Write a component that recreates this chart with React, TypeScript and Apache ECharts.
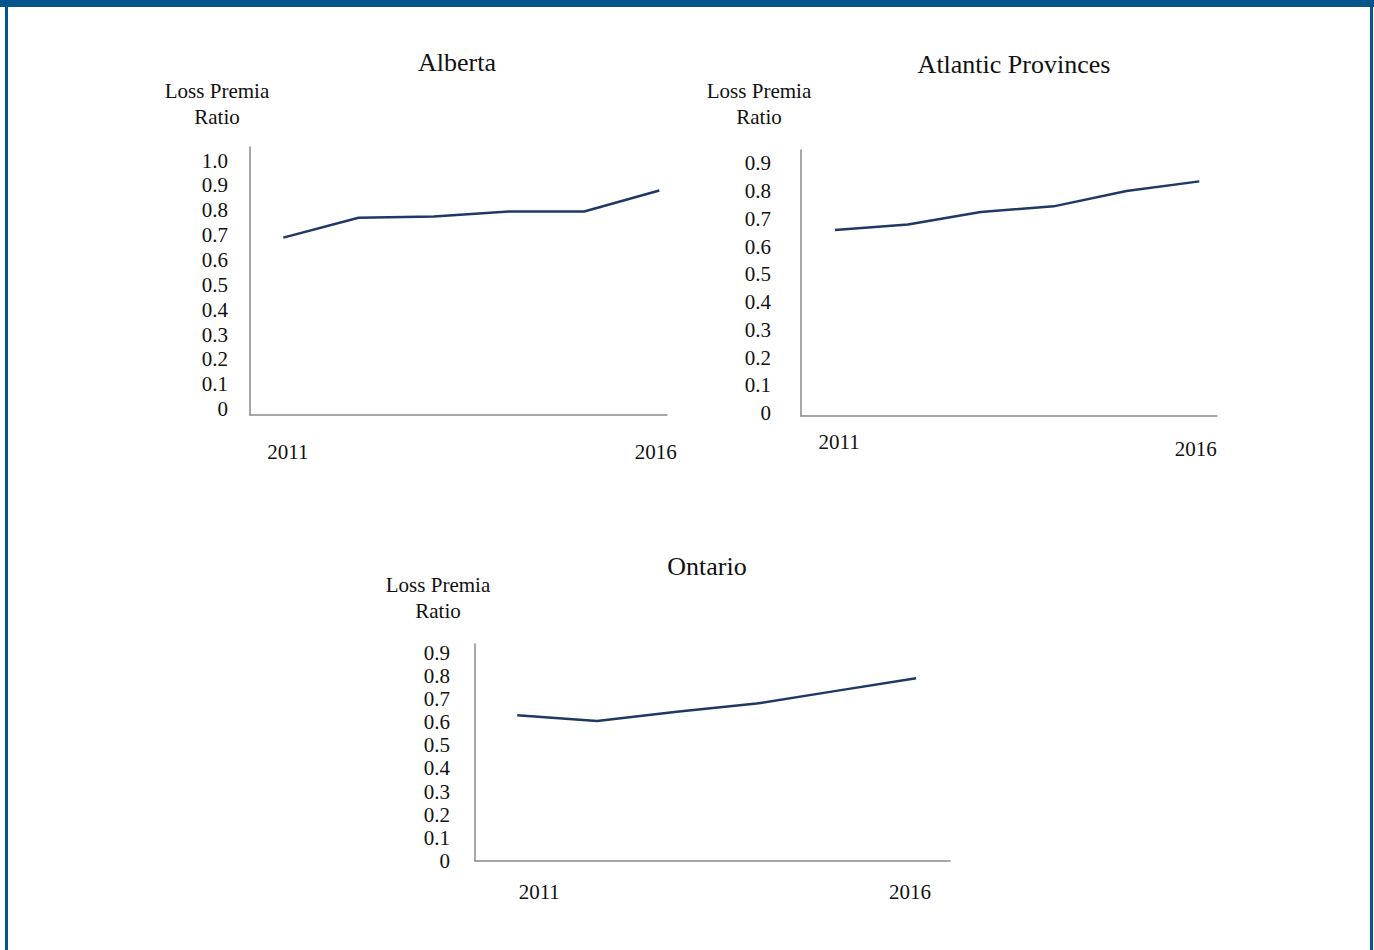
import React, { useEffect, useRef } from "react";
import * as echarts from "echarts";

// ---- data ----
const YEARS = [2011, 2012, 2013, 2014, 2015, 2016];
const ALBERTA = [0.69, 0.77, 0.775, 0.795, 0.795, 0.88];
const ATLANTIC = [0.66, 0.68, 0.725, 0.745, 0.8, 0.835];
const ONTARIO = [0.63, 0.605, 0.645, 0.68, 0.735, 0.79];
const Y_TICKS_TO_1 = [0, 0.1, 0.2, 0.3, 0.4, 0.5, 0.6, 0.7, 0.8, 0.9, 1.0];
const Y_TICKS_TO_09 = [0, 0.1, 0.2, 0.3, 0.4, 0.5, 0.6, 0.7, 0.8, 0.9];
const X_LABELS = [2011, 2016];
const TITLES = ["Alberta", "Atlantic Provinces", "Ontario"];
const Y_NAME = "Loss Premia\nRatio";

const FONT = "'Liberation Serif', 'Times New Roman', serif";
const TEXT = "#111111";
const AXIS = "#8a8a8a";
const LINE = "#1f3864";
const FRAME = "#03558c";

const panels = [
  {
    title: TITLES[0], values: ALBERTA, ticks: Y_TICKS_TO_1,
    titleX: 457, titleY: 49,
    grid: { left: 250, top: 147, width: 417, height: 268 },
    yMin: -0.024, yMax: 1.055, xMin: 2010.557, xMax: 2016.102,
    yLabelMargin: 22, nameShift: 33, nameGap: 17,
    xLabelMargin: 26, pad2011: [0, 0, 0, 9], pad2016: [0, 7, 0, 0],
  },
  {
    title: TITLES[1], values: ATLANTIC, ticks: Y_TICKS_TO_09,
    titleX: 1014, titleY: 51,
    grid: { left: 801, top: 150, width: 416, height: 266 },
    yMin: -0.01, yMax: 0.948, xMin: 2010.533, xMax: 2016.243,
    yLabelMargin: 30, nameShift: 42, nameGap: 20,
    xLabelMargin: 15, pad2011: [0, 0, 0, 8], pad2016: [7, 7, 0, 0],
  },
  {
    title: TITLES[2], values: ONTARIO, ticks: Y_TICKS_TO_09,
    titleX: 707, titleY: 553,
    grid: { left: 475, top: 644, width: 475, height: 217 },
    yMin: 0, yMax: 0.9375, xMin: 2010.47, xMax: 2016.426,
    yLabelMargin: 25, nameShift: 37, nameGap: 20,
    xLabelMargin: 20, pad2011: [0, 0, 0, 44], pad2016: [0, 12, 0, 0],
  },
];

export default function App() {
  const ref = useRef<HTMLDivElement>(null);

  useEffect(() => {
    if (!ref.current) return;
    const chart = echarts.init(ref.current, null, { renderer: "svg" });

    const option: any = {
      animation: false,
      backgroundColor: "#ffffff",
      title: panels.map((p) => ({
        text: p.title,
        left: p.titleX,
        top: p.titleY,
        textAlign: "center",
        padding: 0,
        textStyle: { fontFamily: FONT, fontSize: 26, fontWeight: "normal", color: TEXT },
      })),
      grid: panels.map((p) => ({ ...p.grid, containLabel: false, outerBoundsMode: "none" })),
      xAxis: panels.map((p, i) => ({
        type: "value",
        gridIndex: i,
        min: p.xMin,
        max: p.xMax,
        axisLine: { show: true, onZero: false, lineStyle: { color: AXIS, width: 1.5 } },
        axisTick: { show: false },
        splitLine: { show: false },
        axisLabel: {
          customValues: X_LABELS,
          margin: p.xLabelMargin,
          formatter: (v: number) => `{y${v}|${v}}`,
          rich: {
            y2011: { fontFamily: FONT, fontSize: 21, color: TEXT, padding: p.pad2011 },
            y2016: { fontFamily: FONT, fontSize: 21, color: TEXT, padding: p.pad2016 },
          },
        },
      })),
      yAxis: panels.map((p, i) => ({
        type: "value",
        gridIndex: i,
        min: p.yMin,
        max: p.yMax,
        name: Y_NAME,
        nameLocation: "end",
        nameGap: p.nameGap,
        nameTextStyle: {
          fontFamily: FONT,
          fontSize: 21,
          lineHeight: 26,
          color: TEXT,
          align: "center",
          padding: [0, p.nameShift * 2, 0, 0],
        },
        axisLine: { show: true, onZero: false, lineStyle: { color: AXIS, width: 1.5 } },
        axisTick: { show: false },
        splitLine: { show: false },
        axisLabel: {
          customValues: p.ticks,
          margin: p.yLabelMargin,
          fontFamily: FONT,
          fontSize: 21,
          color: TEXT,
          formatter: (v: number) => (v === 0 ? "0" : v.toFixed(1)),
        },
      })),
      series: panels.map((p, i) => ({
        type: "line",
        name: p.title,
        xAxisIndex: i,
        yAxisIndex: i,
        showSymbol: false,
        lineStyle: { color: LINE, width: 2.5 },
        data: YEARS.map((y, k) => [y, p.values[k]]),
      })),
      graphic: [
        { type: "rect", shape: { x: 0, y: 0, width: 1374, height: 7 }, style: { fill: FRAME } },
        { type: "rect", shape: { x: 5, y: 0, width: 3, height: 950 }, style: { fill: FRAME } },
        { type: "rect", shape: { x: 1370, y: 0, width: 3, height: 950 }, style: { fill: FRAME } },
      ],
    };

    chart.setOption(option);
    return () => chart.dispose();
  }, []);

  return (
    <div
      ref={ref}
      style={{ position: "absolute", left: 0, top: 0, width: 1374, height: 950, background: "#fff" }}
    />
  );
}
